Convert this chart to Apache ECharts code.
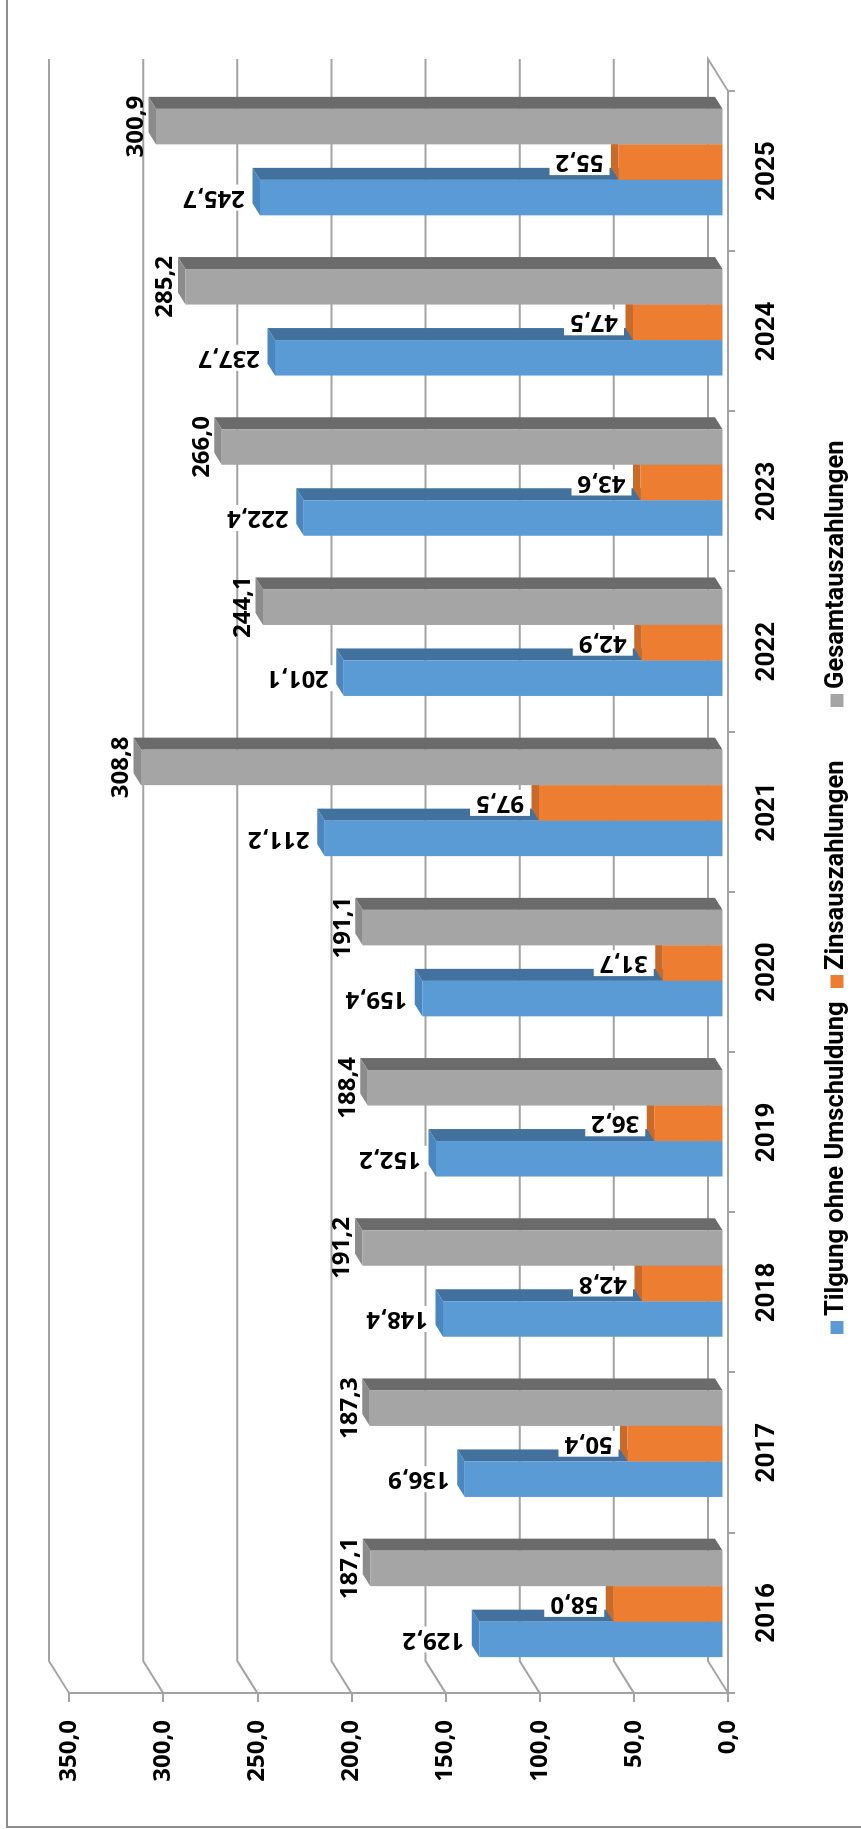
<!DOCTYPE html>
<html>
<head>
<meta charset="utf-8">
<script src="https://cdn.jsdelivr.net/npm/echarts@6/dist/echarts.min.js"></script>
<style>
  html, body { margin: 0; padding: 0; background: #ffffff; overflow: hidden; }
  /* the chart is laid out as a landscape column chart and turned a quarter turn */
  #chart {
    position: absolute; left: 0; top: 0;
    width: 1829px; height: 861px;
    transform-origin: 0 0;
    transform: translateY(1829px) rotate(-90deg);
  }
</style>
</head>
<body>
<div id="chart"></div>
<script>
const categories = ['2016', '2017', '2018', '2019', '2020', '2021', '2022', '2023', '2024', '2025'];
const tilgung = [129.2, 136.9, 148.4, 152.2, 159.4, 211.2, 201.1, 222.4, 237.7, 245.7];
const zins    = [58.0, 50.4, 42.8, 36.2, 31.7, 97.5, 42.9, 43.6, 47.5, 55.2];
const gesamt  = [187.1, 187.3, 191.2, 188.4, 191.1, 308.8, 244.1, 266.0, 285.2, 300.9];
const valueTicks = [0, 50, 100, 150, 200, 250, 300, 350];
const seriesNames = ['Tilgung ohne Umschuldung', 'Zinsauszahlungen', 'Gesamtauszahlungen'];

const fmt = v => v.toFixed(1).replace('.', ',');

// oblique depth of the floor / back wall
const DEPTH = [32, -20];
// front face of the columns sits a little behind the front plane, and the columns have some depth
const BAR_SHIFT = [9, -5.5];
const BAR_DEPTH = [12, -7.5];
const BAR_FRAC = 0.2216;
const GRID_COLOR = '#a3a3a3';
const VALUE_FONT = '"Open Sans", "DejaVu Sans", sans-serif';
const CAT_FONT = 'Roboto, "Noto Sans", sans-serif';
const LEGEND_FONT = '"Liberation Sans Narrow", Roboto, sans-serif';

const palettes = [
  { front: '#5b9bd5', side: '#41719c', top: '#4a86bf' },
  { front: '#ed7d31', side: '#ae5a21', top: '#c96a28' },
  { front: '#a5a5a5', side: '#6b6b6b', top: '#8c8c8c' }
];

function columnRenderer(slot, pal, rotatedLabel) {
  return function (params, api) {
    const cat = api.value(0), val = api.value(1);
    const base = api.coord([cat, 0]);
    const head = api.coord([cat, val]);
    const band = api.size([1, 0])[0];
    const w = band * BAR_FRAC;
    const cx = base[0] + (slot - 1) * w + BAR_SHIFT[0];
    const xL = cx - w / 2, xR = cx + w / 2;
    const yB = base[1] + BAR_SHIFT[1], yT = head[1] + BAR_SHIFT[1];
    const dx = BAR_DEPTH[0], dy = BAR_DEPTH[1];
    const children = [
      { type: 'polygon', shape: { points: [[xR, yT], [xR + dx, yT + dy], [xR + dx, yB + dy], [xR, yB]] },
        style: { fill: pal.side } },
      { type: 'polygon', shape: { points: [[xL, yT], [xL + dx, yT + dy], [xR + dx, yT + dy], [xR, yT]] },
        style: { fill: pal.top } },
      { type: 'rect', shape: { x: xL, y: yT, width: w, height: yB - yT },
        style: { fill: pal.front } }
    ];
    if (rotatedLabel) {
      children.push({
        type: 'text', x: cx, y: yT - 9, rotation: Math.PI / 2, z2: 10,
        style: {
          text: fmt(val), fill: '#000', fontFamily: VALUE_FONT, fontWeight: 'bold', fontSize: 24,
          align: 'left', verticalAlign: 'middle', backgroundColor: '#ffffff', padding: [1, 6]
        }
      });
    } else {
      children.push({
        type: 'text', x: cx, y: yT - 8, z2: 10,
        style: {
          text: fmt(val), fill: '#000', fontFamily: VALUE_FONT, fontWeight: 'bold', fontSize: 24,
          lineHeight: 24, align: 'center', verticalAlign: 'bottom'
        }
      });
    }
    return { type: 'group', children: children };
  };
}

// back-wall gridlines bent across the floor
function gridRenderer(params, api) {
  const v = api.value(1);
  const cs = params.coordSys;
  const y = api.coord([0, v])[1];
  const x0 = cs.x;
  const xBack = cs.x + cs.width + DEPTH[0];
  const pts = [[x0, y], [x0 + DEPTH[0], y + DEPTH[1]], [xBack, y + DEPTH[1]]];
  if (v === 0) pts.push([cs.x + cs.width, y]);
  return {
    type: 'polyline', shape: { points: pts },
    style: { stroke: GRID_COLOR, lineWidth: 2, fill: null }
  };
}

// one legend entry per series so each sits where it belongs along the bottom
const legendLefts = [495, 841, 1122];
const legends = seriesNames.map((name, i) => ({
  data: [name], left: legendLefts[i], top: 824, orient: 'horizontal', padding: 0,
  icon: 'rect', itemWidth: 13, itemHeight: 13,
  textStyle: { fontFamily: LEGEND_FONT, fontSize: 25.5, fontWeight: 'bold', color: '#000', lineHeight: 26 }
}));

const chart = echarts.init(document.getElementById('chart'), null, { renderer: 'canvas' });
chart.setOption({
  animation: false,
  backgroundColor: '#ffffff',
  grid: { left: 136, right: 91, top: 69, bottom: 133, containLabel: false },
  legend: legends,
  xAxis: {
    type: 'category', data: categories, boundaryGap: true,
    axisLine: { show: true, lineStyle: { color: GRID_COLOR, width: 2 } },
    axisTick: { show: true, length: 7, lineStyle: { color: GRID_COLOR, width: 2 } },
    axisLabel: { margin: 26, fontFamily: CAT_FONT, fontWeight: 'bold', fontSize: 26, color: '#000', lineHeight: 26 },
    splitLine: { show: false }
  },
  yAxis: {
    type: 'value', min: 0, max: 350, interval: 50,
    axisLine: { show: true, lineStyle: { color: GRID_COLOR, width: 2 } },
    axisTick: { show: true, length: 9, lineStyle: { color: GRID_COLOR, width: 2 } },
    axisLabel: { margin: 27, formatter: fmt, fontFamily: VALUE_FONT, fontWeight: 'bold', fontSize: 24, color: '#000' },
    splitLine: { show: false }
  },
  graphic: [{
    type: 'rect', silent: true,
    shape: { x: 2, y: 7, width: 1860, height: 880 },
    style: { fill: null, stroke: '#8c8c8c', lineWidth: 2 }
  }],
  series: [
    {
      type: 'custom', name: 'grid', silent: true, z: 1,
      data: valueTicks.map(v => [0, v]),
      renderItem: gridRenderer
    },
    {
      type: 'custom', name: seriesNames[0], z: 2,
      itemStyle: { color: palettes[0].front },
      data: tilgung.map((v, i) => [i, v]),
      renderItem: columnRenderer(0, palettes[0], true)
    },
    {
      type: 'custom', name: seriesNames[1], z: 3,
      itemStyle: { color: palettes[1].front },
      data: zins.map((v, i) => [i, v]),
      renderItem: columnRenderer(1, palettes[1], true)
    },
    {
      type: 'custom', name: seriesNames[2], z: 4,
      itemStyle: { color: palettes[2].front },
      data: gesamt.map((v, i) => [i, v]),
      renderItem: columnRenderer(2, palettes[2], false)
    }
  ]
});
</script>
</body>
</html>
